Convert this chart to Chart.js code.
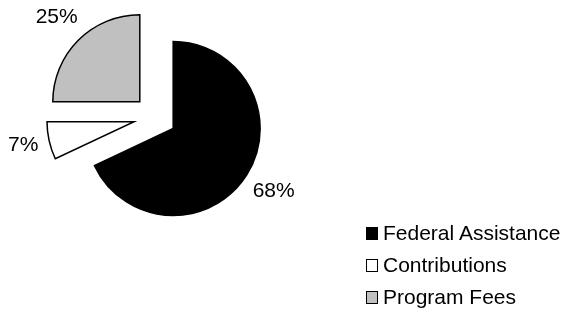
<!DOCTYPE html>
<html>
<head>
<meta charset="utf-8">
<script src="https://cdn.jsdelivr.net/npm/chart.js@4/dist/chart.umd.min.js"></script>
<style>
  body { margin: 0; background: #fff; }
  #wrap { position: relative; width: 573px; height: 310px; }
  #legend { position: absolute; left: 366px; top: 217px; font: 21px "Liberation Sans", Arial, sans-serif; color: #000; }
  #legend div { height: 32px; line-height: 32px; white-space: nowrap; }
  #legend .box { display: inline-block; width: 12px; height: 13px; box-sizing: border-box; border: 1px solid #000; margin-right: 5px; vertical-align: middle; position: relative; top: -1px; }
</style>
</head>
<body>
<div id="wrap">
  <canvas id="pie" width="573" height="310"></canvas>
  <div id="legend"></div>
</div>
<script>
const categories = ['Federal Assistance', 'Contributions', 'Program Fees'];
const shares = [68, 7, 25];
const sliceColors = ['#000000', '#ffffff', '#c0c0c0'];

const PIE_RADIUS = 87;
const EXPLODE = 21.5;

// pull every slice out along its middle angle (chart.js' own offset also trims the angles)
const explode = {
  id: 'explode',
  afterDatasetUpdate(chart, args) {
    args.meta.data.forEach(arc => {
      const mid = (arc.startAngle + arc.endAngle) / 2;
      arc.x += Math.cos(mid) * EXPLODE;
      arc.y += Math.sin(mid) * EXPLODE;
    });
  }
};

// percentage labels just outside each slice
const pctLabels = {
  id: 'pctLabels',
  afterDatasetsDraw(chart) {
    const ctx = chart.ctx;
    const meta = chart.getDatasetMeta(0);
    const total = shares.reduce((a, b) => a + b, 0);
    ctx.save();
    ctx.font = '21px "Liberation Sans", Arial, sans-serif';
    ctx.fillStyle = '#000';
    ctx.textAlign = 'center';
    ctx.textBaseline = 'middle';
    meta.data.forEach((arc, i) => {
      const mid = (arc.startAngle + arc.endAngle) / 2;
      const cos = Math.cos(mid), sin = Math.sin(mid);
      const text = Math.round(shares[i] / total * 100) + '%';
      const w = ctx.measureText(text).width;
      const reach = PIE_RADIUS + 10 + Math.abs(cos) * w / 2 + Math.abs(sin) * 8;
      ctx.fillText(text, arc.x + cos * reach, arc.y + sin * reach - 1);
    });
    ctx.restore();
  }
};

new Chart(document.getElementById('pie'), {
  type: 'pie',
  data: {
    labels: categories,
    datasets: [{
      data: shares,
      backgroundColor: sliceColors,
      borderColor: '#000',
      borderWidth: 1.5,
      borderJoinStyle: 'miter',
      radius: PIE_RADIUS
    }]
  },
  options: {
    responsive: false,
    animation: false,
    layout: { padding: { left: 0, top: 0, right: 263, bottom: 76 } },
    plugins: {
      legend: { display: false },
      tooltip: { enabled: false }
    }
  },
  plugins: [explode, pctLabels]
});

// legend
const legendEl = document.getElementById('legend');
categories.forEach((name, i) => {
  const row = document.createElement('div');
  const box = document.createElement('span');
  box.className = 'box';
  box.style.background = sliceColors[i];
  row.appendChild(box);
  row.appendChild(document.createTextNode(name));
  legendEl.appendChild(row);
});
</script>
</body>
</html>
